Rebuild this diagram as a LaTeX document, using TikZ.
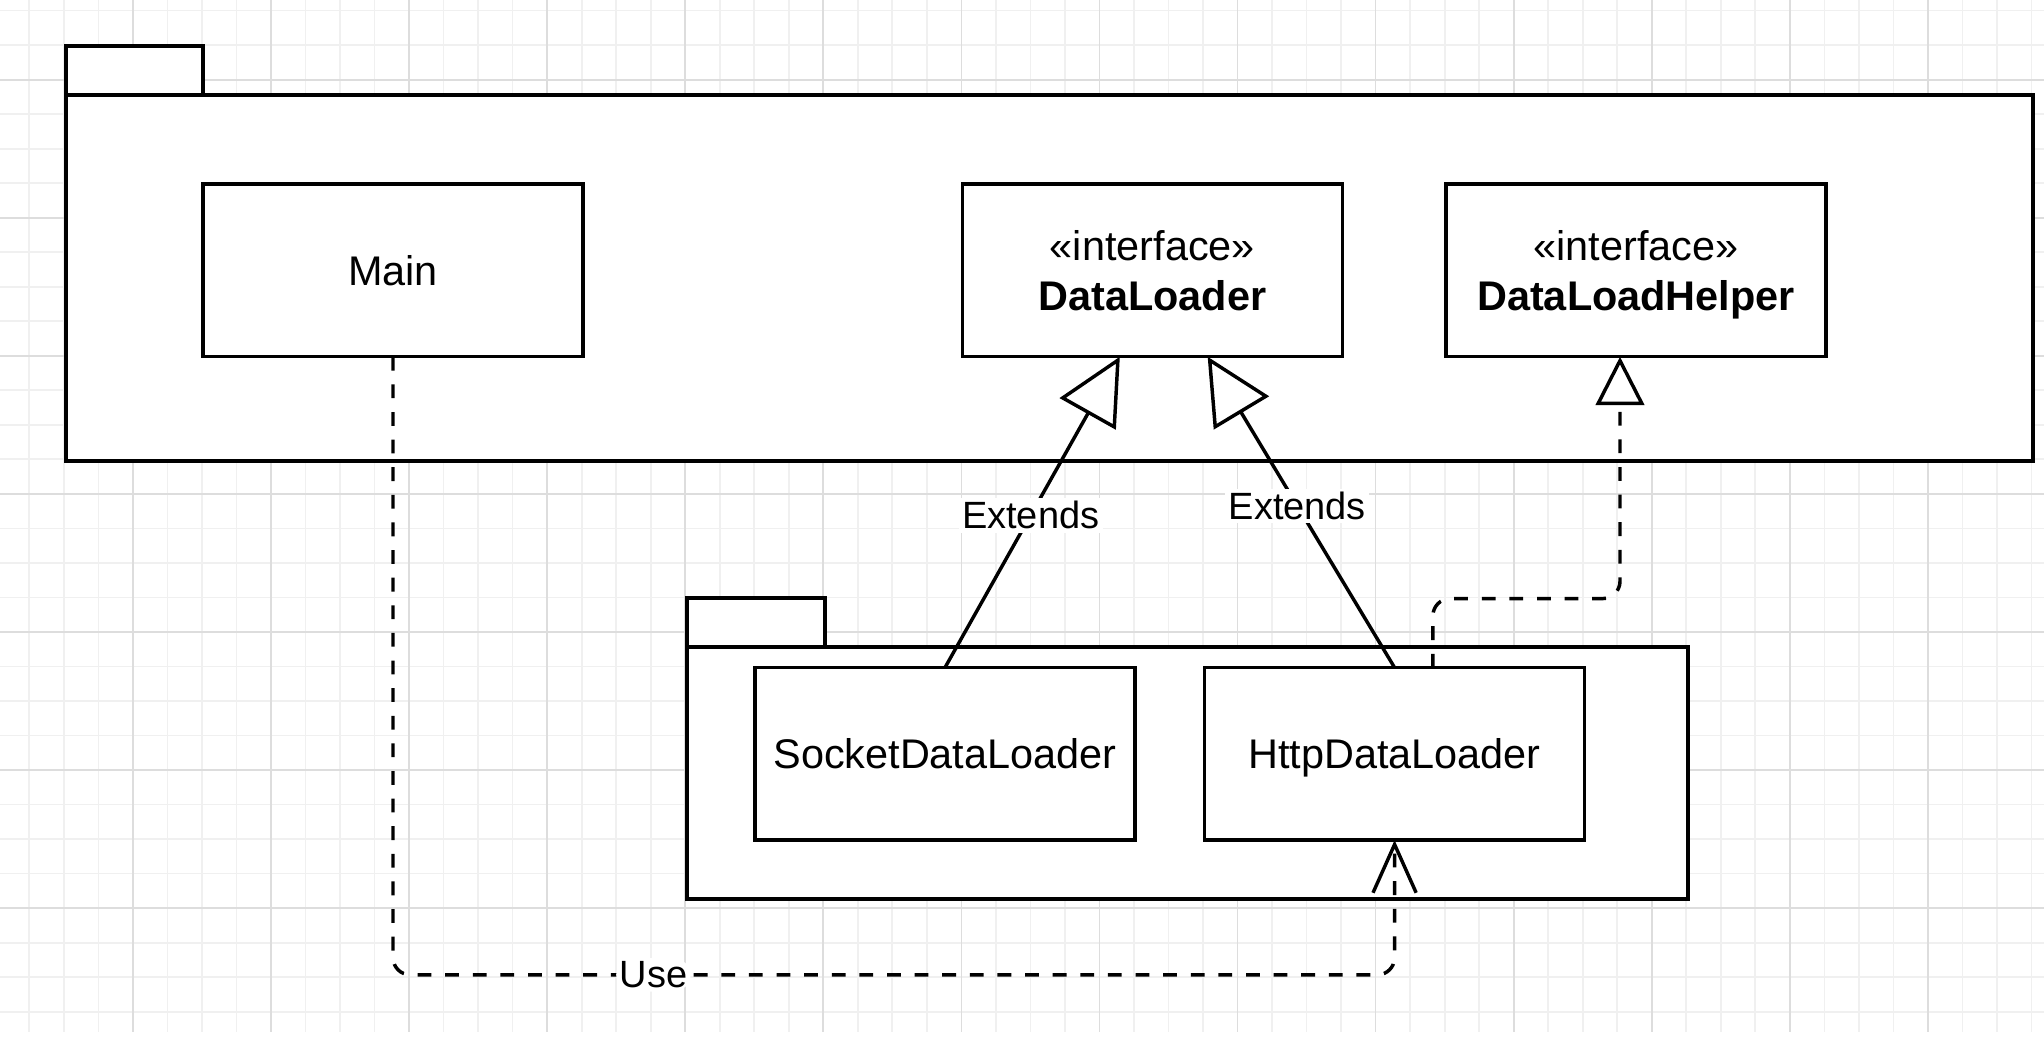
\documentclass[tikz,border=0pt]{standalone}
\usepackage{fontspec}
\setmainfont{Liberation Sans}
\usetikzlibrary{arrows.meta,calc}
\definecolor{gridminor}{HTML}{F0F0F0}
\definecolor{gridmajor}{HTML}{DDDDDD}
\begin{document}
\begin{tikzpicture}[x=1pt,y=-1pt,
  box/.style={draw, line width=1pt, fill=white, minimum width=110pt, minimum height=50pt, inner sep=0pt, outer sep=0pt, align=center, text depth=0pt, font=\fontsize{12}{14.4}\selectfont},
  pkgline/.style={draw, line width=1pt, fill=white},
  lbl/.style={fill=white, inner sep=1pt, font=\fontsize{11}{13}\selectfont},
  ext/.style={line width=1pt, -{Triangle[open, length=19pt, width=18.5pt]}},
  impl/.style={line width=1pt, dash pattern=on 4pt off 4pt, rounded corners=5pt, -{Triangle[open, length=14pt, width=14pt]}},
  usedep/.style={line width=1pt, dash pattern=on 4pt off 4pt, rounded corners=5pt, -{Straight Barb[length=14pt, width=12.5pt]}},
  minorln/.style={draw=gridminor, line width=0.5pt},
  majorln/.style={draw=gridmajor, line width=0.5pt}
]
\useasboundingbox (0,0) rectangle (592.13,303.01);
\fill[white] (0,0) rectangle (592.13,303.01);
% grid
\foreach \k in {0,...,58} \draw[minorln] ({8.5+10*\k},0) -- ({8.5+10*\k},299);
\foreach \k in {0,...,29} \draw[minorln] (0,{3.07+10*\k}) -- (592.13,{3.07+10*\k});
\foreach \k in {0,...,13} \draw[majorln] ({38.5+40*\k},0) -- ({38.5+40*\k},299);
\foreach \k in {0,...,6} \draw[majorln] (0,{23.07+40*\k}) -- (592.13,{23.07+40*\k});
% big package
\draw[pkgline] (19.1,13.3) rectangle (58.8,27.5);
\draw[pkgline] (19.1,27.5) rectangle (588.9,133.5);
% lower package
\draw[pkgline] (199,173.2) rectangle (239,187.4);
\draw[pkgline] (199,187.4) rectangle (489,260.4);
% classes
\node[box] (main) at (113.85,78.35) {Main};
\node[box] (dl) at (333.85,78.35) {«interface»\\\textbf{DataLoader}};
\node[box] (dlh) at (473.95,78.35) {«interface»\\\textbf{DataLoadHelper}};
\node[box] (sock) at (273.75,218.4) {SocketDataLoader};
\node[box] (http) at (404,218.4) {HttpDataLoader};
% connectors
\draw[ext] (sock.north) -- node[lbl, pos=0.49]{Extends} ([xshift=-9.45pt]dl.south);
\draw[ext] (http.north) -- node[lbl, pos=0.52]{Extends} ([xshift=16pt]dl.south);
\draw[impl] ([xshift=11.1pt]http.north) -- ++(0,-20) -| ([xshift=-4.65pt]dlh.south);
\coordinate (usey) at (0,282.4);
\draw[usedep] (main.south) -- (main.south |- usey) -- node[lbl, pos=0.26]{Use} (http.south |- usey) -- (http.south);
\end{tikzpicture}
\end{document}
